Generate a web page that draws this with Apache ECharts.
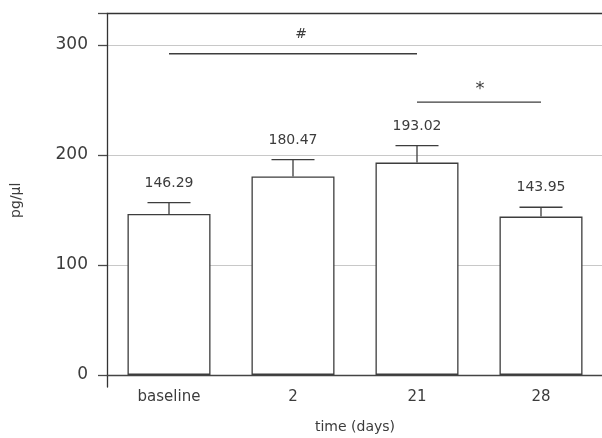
<!DOCTYPE html>
<html><head><meta charset="utf-8">
<script src="https://cdn.jsdelivr.net/npm/echarts@6/dist/echarts.min.js"></script>
<style>html,body{margin:0;padding:0;background:#fff}#c{width:602px;height:438px}</style>
</head><body><div id="c"></div>
<script>
// ---- data ----
const categories = ['baseline', '2', '21', '28'];
const means = [146.29, 180.47, 193.02, 143.95];
const errors = [10.3, 15.2, 15.5, 8.5];
const yTickValues = [0, 100, 200, 300];
const sigFrom = ['baseline', '21'];
const sigTo = ['21', '28'];
const sigLevel = [292, 248];
const sigMark = ['#', '*'];
const yMin = -11;
const yMax = 328.6;
const xName = 'time (days)';
const yName = 'pg/µl';

// ---- styles ----
const FONT = 'DejaVu Sans';
const TXT = '#3c3c3c';
const LINE = '#3d3d3d';
const markStyle = [
  { dx: 8, dy: -19, size: 14 },
  { dx: 1, dy: -13, size: 18 }
];

const chart = echarts.init(document.getElementById('c'), null, { renderer: 'canvas' });
chart.setOption({
  animation: false,
  backgroundColor: '#fff',
  grid: { left: 107, top: 13.5, width: 496, bottom: 51, containLabel: false, outerBoundsMode: 'none' },
  xAxis: [{
    type: 'category',
    data: categories,
    axisLine: { onZero: true, lineStyle: { color: '#444', width: 1.3 } },
    axisTick: { show: false },
    axisLabel: { margin: 3, fontFamily: FONT, fontSize: 15, color: TXT },
    name: xName,
    nameLocation: 'middle',
    nameGap: 33,
    nameTextStyle: { fontFamily: FONT, fontSize: 14, color: TXT }
  }, {
    type: 'category',
    position: 'top',
    data: categories,
    axisLine: { onZero: false, lineStyle: { color: '#333', width: 1.3 } },
    axisTick: { show: false },
    axisLabel: { show: false }
  }],
  yAxis: {
    type: 'value',
    min: yMin,
    max: yMax,
    axisLine: { show: true, lineStyle: { color: '#333', width: 1.3 } },
    axisTick: { show: true, inside: false, length: 9, customValues: yTickValues.concat([yMax]), lineStyle: { color: '#4a4a4a', width: 1.3 } },
    axisLabel: { customValues: yTickValues, margin: 19, fontFamily: FONT, fontSize: 17, color: TXT },
    splitLine: { show: true, lineStyle: { color: '#c8c8c8', width: 1 } },
    name: yName,
    nameLocation: 'middle',
    nameGap: 84,
    nameRotate: 90,
    nameTextStyle: { fontFamily: FONT, fontSize: 14, color: TXT }
  },
  series: [{
    type: 'bar',
    data: means,
    barWidth: 83,
    itemStyle: { color: '#fff', borderColor: LINE, borderWidth: 1.3 },
    z: 2
  }, {
    type: 'custom',
    data: categories.map((c, i) => [i, means[i], errors[i]]),
    encode: { x: 0, y: 1 },
    z: 3,
    renderItem(params, api) {
      const i = api.value(0), m = api.value(1), e = api.value(2);
      const base = api.coord([i, m]);
      const top = api.coord([i, m + e]);
      const half = 21.5;
      const st = { stroke: LINE, lineWidth: 1.3 };
      return {
        type: 'group',
        children: [
          { type: 'line', shape: { x1: top[0], y1: base[1], x2: top[0], y2: top[1] }, style: st },
          { type: 'line', shape: { x1: top[0] - half, y1: top[1], x2: top[0] + half, y2: top[1] }, style: st },
          { type: 'text', style: { text: m.toFixed(2), x: top[0], y: top[1] - 19.5, align: 'center', verticalAlign: 'middle', font: '14px "' + FONT + '"', fill: TXT } }
        ]
      };
    }
  }, {
    type: 'custom',
    data: sigFrom.map((f, k) => [categories.indexOf(f), categories.indexOf(sigTo[k]), sigLevel[k], k]),
    encode: { x: [0, 1], y: 2 },
    z: 3,
    renderItem(params, api) {
      const a = api.coord([api.value(0), api.value(2)]);
      const b = api.coord([api.value(1), api.value(2)]);
      const k = api.value(3);
      const ms = markStyle[k];
      return {
        type: 'group',
        children: [
          { type: 'line', shape: { x1: a[0], y1: a[1], x2: b[0], y2: b[1] }, style: { stroke: LINE, lineWidth: 1.3 } },
          { type: 'text', style: { text: sigMark[k], x: (a[0] + b[0]) / 2 + ms.dx, y: a[1] + ms.dy, align: 'center', verticalAlign: 'middle', font: ms.size + 'px "' + FONT + '"', fill: TXT } }
        ]
      };
    }
  }]
});
</script>
</body></html>
